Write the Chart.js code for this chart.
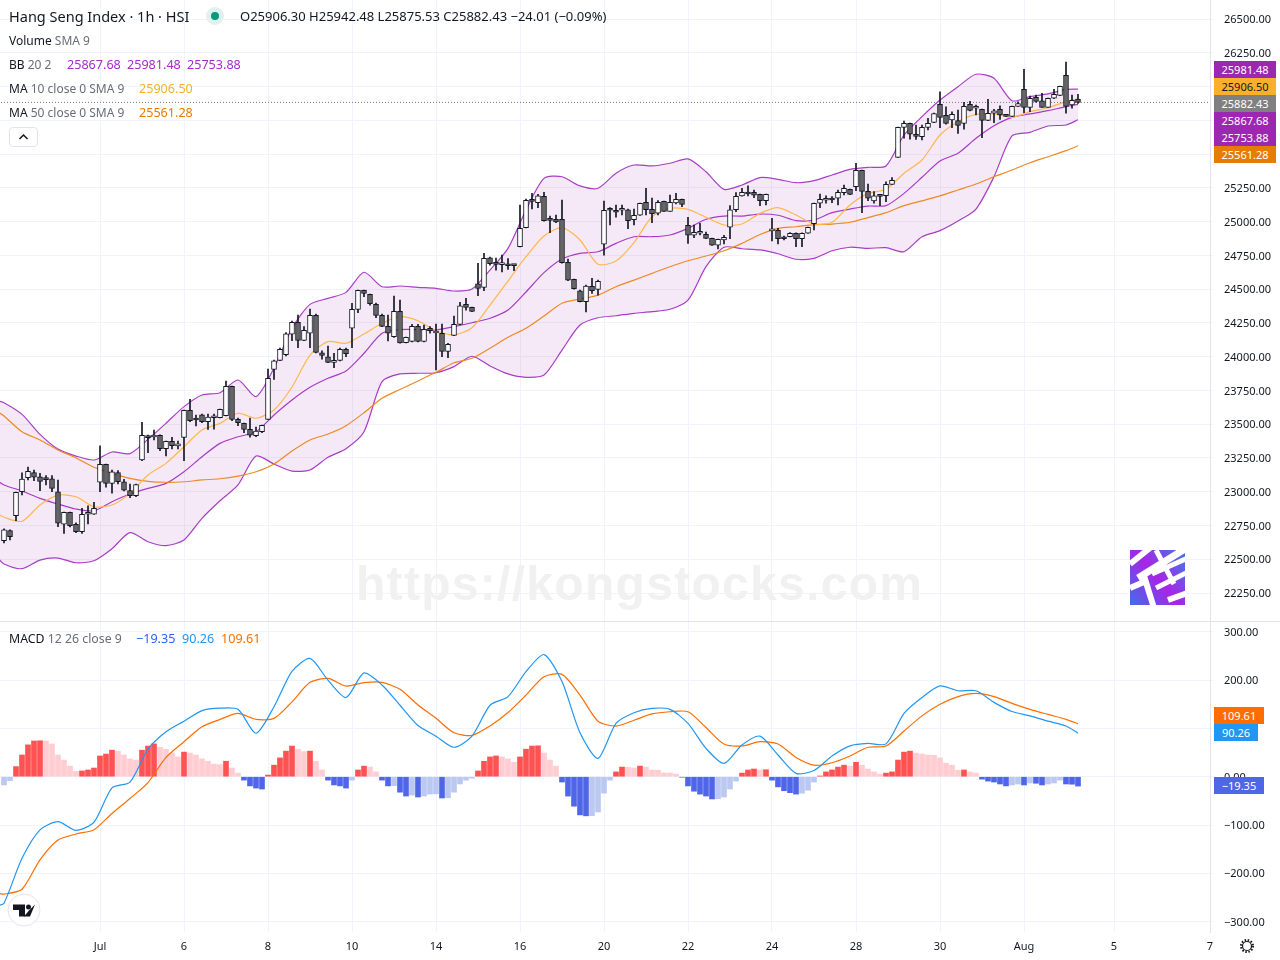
<!DOCTYPE html>
<html>
<head>
<meta charset="utf-8">
<title>Hang Seng Index</title>
<script src="https://cdn.jsdelivr.net/npm/chart.js@4"></script>
<style>
  html, body { margin: 0; padding: 0; background: #fff; width: 1280px; height: 960px; overflow: hidden; }
  body { position: relative; font-family: "Noto Sans", sans-serif; color: #131722; }
  canvas { position: absolute; left: 0; }
  .t { position: absolute; white-space: nowrap; font-size: 12px; line-height: 16px; }
  .v { font-size: 12.6px; }
  .g { color: #6a6d78; }
  .tag { position: absolute; height: 17px; line-height: 17px; font-size: 11px; text-align: center; color: #fff; }
  .mark { position: absolute; font-family: "Liberation Sans", sans-serif; font-weight: bold; font-size: 48px; color: #f1f1f1; letter-spacing: 1.3px; white-space: nowrap; }
</style>
</head>
<body>
<canvas id="priceChart" style="top:0" width="1280" height="621"></canvas>
<canvas id="macdChart" style="top:622px" width="1280" height="338"></canvas>
<div style="position:absolute;left:0;top:621px;width:1280px;height:1px;background:#e0e3eb"></div>

<div class="mark" style="left:356px;top:556px">https://kongstocks.com</div>

<div class="t" style="left:9px;top:6px;font-size:14.5px;line-height:20px">Hang Seng Index · 1h · HSI</div>
<div style="position:absolute;left:206px;top:7px;width:18px;height:18px;border-radius:9px;background:#dff2ee"></div>
<div style="position:absolute;left:211px;top:12px;width:8px;height:8px;border-radius:4px;background:#089981"></div>
<div class="t" style="left:240px;top:8px;font-size:13px">O25906.30 H25942.48 L25875.53 C25882.43 −24.01 (−0.09%)</div>
<div class="t" style="left:9px;top:33px">Volume <span class="g">SMA 9</span></div>
<div class="t" style="left:9px;top:57px">BB <span class="g">20 2</span></div>
<div class="t v" style="left:67px;top:57px;color:#a62ccb">25867.68</div>
<div class="t v" style="left:127px;top:57px;color:#a62ccb">25981.48</div>
<div class="t v" style="left:187px;top:57px;color:#a62ccb">25753.88</div>
<div class="t" style="left:9px;top:81px">MA <span class="g">10 close 0 SMA 9</span></div>
<div class="t v" style="left:139px;top:81px;color:#fbb02d">25906.50</div>
<div class="t" style="left:9px;top:105px">MA <span class="g">50 close 0 SMA 9</span></div>
<div class="t v" style="left:139px;top:105px;color:#e67c00">25561.28</div>
<div style="position:absolute;left:9px;top:127px;width:27px;height:18px;border:1px solid #e0e3eb;border-radius:4px">
  <svg width="27" height="18"><path d="M9.5 11 L13.5 7 L17.5 11" fill="none" stroke="#131722" stroke-width="1.5"/></svg>
</div>

<div class="t" style="left:9px;top:631px;font-size:12.3px">MACD <span class="g">12 26 close 9</span></div>
<div class="t v" style="left:136px;top:631px;color:#2962ff">−19.35</div>
<div class="t v" style="left:182px;top:631px;color:#2196f3">90.26</div>
<div class="t v" style="left:221px;top:631px;color:#ff6d00">109.61</div>

<div class="tag" style="left:1214px;width:62px;top:61px;background:#9c27b0">25981.48</div>
<div class="tag" style="left:1214px;width:62px;top:78px;background:#fbb02d;color:#131722">25906.50</div>
<div class="tag" style="left:1214px;width:62px;top:95px;background:#808080">25882.43</div>
<div class="tag" style="left:1214px;width:62px;top:112px;background:#9c27b0">25867.68</div>
<div class="tag" style="left:1214px;width:62px;top:129px;background:#9c27b0">25753.88</div>
<div class="tag" style="left:1214px;width:62px;top:146px;background:#e67c00">25561.28</div>
<div class="tag" style="left:1214px;width:50px;top:707px;background:#ff6d00">109.61</div>
<div class="tag" style="left:1214px;width:44px;top:724px;background:#2196f3">90.26</div>
<div class="tag" style="left:1214px;width:50px;top:777px;background:#4f66e8">−19.35</div>

<svg style="position:absolute;left:1130px;top:550px" width="55" height="55" viewBox="0 0 55 55">
  <defs><linearGradient id="lg" x1="0" y1="1" x2="1" y2="0.2">
    <stop offset="0" stop-color="#3f6fe8"/><stop offset="0.55" stop-color="#a824e6"/><stop offset="1" stop-color="#4f6fe8"/>
  </linearGradient></defs>
  <rect width="55" height="55" fill="url(#lg)"/>
  <g stroke="#fff" fill="none">
    <path d="M0 14 L20 -2" stroke-width="6"/>
    <path d="M8 28 L58 -3" stroke-width="7"/>
    <path d="M0 38 L14 32" stroke-width="6"/>
    <path d="M22 24 L58 8" stroke-width="5"/>
    <path d="M26 0 L44 34" stroke-width="5"/>
    <path d="M14 26 L24 58" stroke-width="6"/>
    <path d="M26 38 L58 22" stroke-width="5"/>
    <path d="M38 50 L60 42" stroke-width="6"/>
  </g>
</svg>

<svg style="position:absolute;left:7px;top:893px" width="34" height="34" viewBox="7 893 34 34">
  <circle cx="24" cy="910" r="16" fill="#fff" stroke="#e0e3eb" stroke-width="1"/>
  <path d="M13 904.500h12v12h-6v-6.500h-6z" fill="#131722"/>
  <circle cx="28.500" cy="907" r="2.500" fill="#131722"/>
  <path d="M35 904.500l-5 12h-6l5 -6z" fill="#131722"/>
</svg>
<svg style="position:absolute;left:1239px;top:938px" width="16" height="16">
  <circle cx="8" cy="8" r="4.500" fill="none" stroke="#131722" stroke-width="1.2"/>
  <circle cx="8" cy="8" r="6" fill="none" stroke="#131722" stroke-width="2" stroke-dasharray="1.500 1.640"/>
</svg>

<script>
// x positions of the time labels, counted in bars
const dateTicks = [16, 30, 44, 58, 72, 86, 100, 114, 128, 142, 156, 170, 185, 201];
const dateLabels = ["Jul", "6", "8", "10", "14", "16", "20", "22", "24", "28", "30", "Aug", "5", "7"];

const opens = [
  22638,22712,22823,23000,23104,23141,23111,23095,23096,23000,
  22759,22848,22759,22704,22833,22833,23070,23203,23062,23141,
  23074,23008,22971,23235,23415,23405,23418,23319,23373,23340,
  23402,23603,23535,23570,23518,23548,23548,23563,23780,23536,
  23506,23462,23415,23444,23536,23906,23973,24014,24166,24254,
  24121,24173,24306,24029,23999,23958,23973,24054,24210,24350,
  24491,24461,24387,24306,24224,24148,24335,24103,24113,24224,
  24113,24210,24175,24173,24039,24158,24239,24387,24365,24540,
  24513,24732,24698,24681,24683,24678,24814,24955,25162,25140,
  25187,25015,25017,25017,24698,24572,24488,24407,24520,24498,
  24832,25091,25081,25084,25088,25014,25047,25143,25091,25062,
  25150,25076,25138,25165,24973,24899,24914,24906,24876,24825,
  24864,24958,25088,25190,25217,25217,25202,25155,24931,24936,
  24884,24888,24914,24873,24914,24985,25136,25158,25175,25173,
  25214,25239,25258,25380,25224,25153,25195,25192,25276,25476,
  25698,25727,25646,25628,25698,25735,25868,25787,25752,25747,
  25727,25868,25839,25831,25750,25802,25831,25784,25779,25853,
  25979,25846,25920,25895,25846,25913,25935,26083,25863,25906.30
];
const highs = [
  22725,22717,22998,23139,23183,23161,23136,23119,23119,23087,
  22850,22850,22769,22877,22895,22922,23339,23205,23161,23156,
  23092,23057,23057,23514,23420,23457,23422,23375,23402,23375,
  23605,23684,23568,23575,23575,23575,23612,23819,23782,23546,
  23509,23546,23479,23494,23908,23975,24064,24179,24264,24308,
  24222,24352,24315,24044,24079,24025,24064,24064,24395,24493,
  24493,24463,24397,24315,24308,24449,24419,24145,24239,24239,
  24234,24222,24241,24241,24099,24300,24402,24431,24367,24691,
  24765,24737,24730,24752,24727,24678,25123,25167,25209,25202,
  25217,25041,25049,25160,24722,24574,24493,24530,24580,24567,
  25151,25103,25123,25123,25093,25093,25138,25247,25175,25155,
  25152,25197,25209,25167,25032,24975,24988,24923,24878,24871,
  24899,25118,25214,25247,25264,25234,25204,25204,25025,24951,
  24893,24918,24916,24916,24960,25138,25204,25190,25185,25234,
  25271,25241,25432,25382,25278,25222,25197,25295,25325,25700,
  25745,25729,25715,25715,25765,25804,25961,25850,25813,25826,
  25883,25890,25863,25833,25905,25831,25858,25789,25856,25887,
  26127,25930,25937,25950,25915,25979,26004,26181,25937,25942.48
];
const lows = [
  22620,22643,22786,22976,23087,23082,23008,23050,23000,22742,
  22692,22739,22697,22692,22761,22831,23000,23033,22990,23057,
  23006,22956,22964,23230,23289,23383,23304,23265,23316,23316,
  23230,23518,23487,23511,23462,23464,23546,23561,23526,23489,
  23437,23403,23407,23437,23535,23832,23970,24005,24118,24066,
  24119,24066,24027,23982,23955,23918,23968,23999,24066,24325,
  24444,24382,24288,24222,24116,24143,24099,24101,24110,24110,
  24110,24173,23901,23999,23992,24155,24236,24345,24334,24451,
  24488,24678,24641,24628,24646,24636,24813,24953,25093,25103,
  25004,24918,24992,24693,24562,24500,24405,24332,24469,24456,
  24752,24975,25032,25049,24948,24975,25045,25049,24992,25049,
  25075,25075,25130,25110,24839,24881,24901,24873,24823,24797,
  24834,24873,25073,25188,25190,25177,25118,25123,24857,24834,
  24864,24886,24814,24814,24912,24938,25103,25136,25140,25123,
  25197,25200,25229,25066,25155,25136,25118,25147,25275,25475,
  25617,25611,25609,25604,25678,25733,25695,25722,25695,25653,
  25685,25819,25789,25621,25748,25732,25757,25778,25778,25852,
  25806,25813,25885,25845,25845,25911,25933,25802,25839,25875.53
];
const closes = [
  22717,22667,22996,23094,23151,23107,23077,23090,23025,22767,
  22848,22749,22704,22833,22838,22877,23203,23062,23148,23074,
  23011,22971,23052,23418,23400,23410,23319,23373,23341,23343,
  23603,23526,23531,23518,23553,23552,23610,23780,23536,23511,
  23462,23418,23449,23491,23840,23970,24054,24169,24254,24121,
  24195,24306,24032,24010,23958,23970,24054,24022,24350,24491,
  24469,24392,24306,24224,24173,24335,24101,24143,24224,24113,
  24202,24192,24180,24039,24091,24239,24377,24365,24335,24506,
  24728,24688,24683,24685,24673,24674,24950,25158,25150,25190,
  25007,25009,24997,24695,24567,24503,24407,24522,24488,24557,
  25084,25084,25069,25088,25007,25047,25136,25088,25059,25143,
  25076,25143,25165,25128,24899,24921,24918,24876,24825,24869,
  24884,25088,25187,25217,25204,25195,25155,25202,24935,24873,
  24873,24914,24873,24914,24958,25136,25165,25162,25160,25217,
  25247,25202,25380,25224,25173,25190,25187,25276,25306,25698,
  25727,25648,25631,25698,25727,25799,25772,25727,25794,25713,
  25853,25824,25853,25750,25802,25821,25789,25779,25853,25873,
  25846,25913,25890,25846,25913,25942,26001,25853,25898,25882.43
];

const lineBars = [
  -1,0,3,6,9,12,15,18,21,24,27,30,33,36,39,42,45,48,51,54,57,60,63,66,69,72,75,78,81,84,
  87,90,93,96,99,102,105,108,111,114,117,120,123,126,129,132,135,138,141,144,147,150,153,
  156,159,162,165,168,171,174,177,179
];
const bbUpper = [
  23672,23659,23573,23425,23316,23264,23235,23294,23282,23388,
  23507,23630,23716,23733,23827,23704,23916,24210,24387,24432,
  24476,24625,24518,24523,24513,24506,24486,24501,24641,24802,
  25086,25320,25332,25264,25247,25358,25419,25412,25432,25464,
  25369,25239,25271,25326,25313,25288,25303,25345,25387,25402,
  25412,25641,25777,25900,25999,26091,26061,25895,25925,25945,
  25979,25981.48
];
const bbBasis = [
  23079,23050,23005,22951,22909,22872,22859,22926,22983,23025,
  23062,23148,23259,23358,23407,23444,23568,23679,23773,23840,
  23894,24025,24173,24200,24200,24197,24222,24251,24284,24345,
  24479,24622,24723,24765,24777,24839,24888,24888,24901,24950,
  25017,25041,25041,25056,25047,25007,25012,25066,25093,25115,
  25118,25209,25328,25449,25506,25617,25710,25772,25797,25821,
  25851,25867.68
];
const bbLower = [
  22509,22465,22430,22494,22509,22474,22489,22578,22697,22630,
  22601,22643,22803,22933,23050,23264,23205,23153,23161,23255,
  23318,23444,23815,23872,23877,23881,23926,24003,23931,23872,
  23847,23864,24049,24234,24288,24303,24321,24333,24351,24419,
  24666,24810,24799,24790,24762,24721,24728,24784,24810,24802,
  24807,24777,24888,24933,25004,25093,25332,25634,25661,25708,
  25715,25753.88
];
const ma10 = [
  22835,22811,22781,22902,22975,22963,22889,22902,22988,23124,
  23210,23333,23457,23506,23581,23544,23605,23775,24012,24111,
  24099,24168,24247,24296,24266,24192,24162,24214,24382,24560,
  24740,24893,24955,24864,24684,24708,24844,25036,25098,25091,
  25032,24975,24982,25061,25103,25049,24982,24995,25123,25209,
  25239,25358,25456,25641,25740,25794,25797,25772,25814,25843,
  25888,25906.50
];
const ma50 = [
  23590,23561,23444,23383,23309,23250,23181,23136,23099,23077,
  23070,23074,23087,23096,23116,23148,23205,23301,23383,23427,
  23489,23585,23692,23757,23820,23884,23955,23988,24062,24143,
  24210,24301,24395,24427,24456,24518,24567,24617,24666,24710,
  24745,24784,24839,24904,24950,24962,24977,24982,24995,25029,
  25066,25118,25153,25190,25234,25278,25332,25382,25436,25480,
  25525,25561.28
];
const macdLine = [
  -267,-262,-169,-110,-93,-111,-94,-23,-11,57,
  93,115,137,142,139.5,90,145,218,245,200,
  164,215,190,148,106,84,61,84,148,166,
  217.5,253,197,91,38,110.5,132.6,141.5,139.5,110.5,
  58.7,27.7,65.6,84,45,7,13,43,64,69,
  68,131,164,188,178,178,154,135,126,115,
  105,90.26
];
const signalLine = [
  -241,-243,-233,-172,-131,-118.6,-109.6,-76,-45,-12,
  40,72.6,103.6,118.8,131,118.8,120.8,155,195.4,203.6,
  187.8,194.7,195.4,181,148.5,121,91,85.7,105,133,
  169,207,212,169,115,105,117,130,134.6,134.6,
  102,67.7,63.6,72.6,67.7,40,24,29,43,61,
  63.6,94.6,126,150,166,172.6,166,152,139.5,129,
  118.8,109.61
];
const macdHist = [
  -17,-8,21,45,66,74,74.5,74,68,45,
  34.5,22,11,12,14,18,43,47,55,53,
  45,37,34.5,55,63.5,68,61,57,49,41,
  51,49,45,37,32,26,25,32,18,7.5,
  -7,-19,-23.5,-25.5,3.5,24,39,53,63.5,57,
  52,53,32,14,-7,-17,-19,-23.5,-7,14,
  22,20,10,-7,-19,-18.5,-32,-40,-38,-42,
  -40,-36,-35.5,-44,-43.5,-32,-15,-7,-3,12,
  32,41,43,41,37,30,41,57,63.5,64,
  49,34.5,22,-11,-40,-61,-79,-81,-80.5,-73,
  -34,-7,10,20,19.5,18,22,20,14,13.5,
  8,7.5,5.5,-1,-19,-30,-36,-40,-46,-45.5,
  -42,-25.5,-9,7.5,14,16,14,14.5,-7,-21,
  -29,-33,-36,-34,-28,-11,1.5,10,14,20,
  24,22,30,24,16,10,5.5,7.5,10,34.5,
  51,53,49,47,45,44.5,39,28,24,13.5,
  14,10,7.5,-5,-9,-11,-15,-19,-17,-15,
  -17,-13,-13.5,-17,-15,-13,-7,-15,-15.5,-19.35
];
const lastClose = 25882.43;

const gridColor = "#f0f3fa";
const axisFont = { family: "'Noto Sans', sans-serif", size: 11 };

function linePoints(values) {
  return values.map((v, i) => ({ x: lineBars[i], y: v }));
}

function lineSet(values, color, order, extra) {
  return Object.assign({
    type: "line",
    data: linePoints(values),
    borderColor: color,
    borderWidth: 1.2,
    pointRadius: 0,
    tension: 0.25,
    order: order
  }, extra || {});
}

function priceTick(v) {
  return (v < 0 ? "\u2212" : "") + Math.abs(v).toFixed(2);
}

function xScale(showLabels) {
  return {
    type: "linear",
    offset: false,
    min: -4 / 6,
    max: 201,
    grid: { color: gridColor, offset: false, drawTicks: false },
    border: { display: false },
    afterBuildTicks: s => { s.ticks = dateTicks.map(v => ({ value: v })); },
    afterFit: s => {
      s.height = showLabels ? 28 : 0;
      s.paddingLeft = 0;
      s.paddingRight = 0;
    },
    ticks: {
      display: showLabels,
      autoSkip: false,
      maxRotation: 0,
      padding: 8,
      color: "#131722",
      font: axisFont,
      callback: v => dateLabels[dateTicks.indexOf(v)]
    }
  };
}

function yScale(min, max, step) {
  return {
    position: "right",
    min: min,
    max: max,
    beginAtZero: false,
    // tick padding would otherwise push the plot area in from top and bottom
    afterFit: s => {
      s.width = 70;
      s.paddingTop = 0;
      s.paddingBottom = 0;
    },
    grid: { color: gridColor, tickLength: 3 },
    border: { color: "#e0e3eb" },
    ticks: {
      stepSize: step,
      includeBounds: false,
      autoSkip: false,
      padding: 11,
      labelOffset: 1,
      color: "#131722",
      font: axisFont,
      callback: priceTick
    }
  };
}

const barBase = { grouped: false, borderWidth: 0 };

new Chart(document.getElementById("priceChart"), {
  type: "bar",
  data: {
    datasets: [
      lineSet(bbUpper, "#a83fc6", 5, { fill: { target: 2 }, backgroundColor: "rgba(156,39,176,0.1)" }),
      lineSet(bbBasis, "#a83fc6", 5),
      lineSet(bbLower, "#a83fc6", 5),
      lineSet(ma10, "#ffb74d", 4),
      lineSet(ma50, "#ed8a24", 4),
      {
        type: "line",
        data: [{ x: -1, y: lastClose }, { x: 201, y: lastClose }],
        borderColor: "#787b86",
        borderWidth: 1,
        borderDash: [1, 2],
        pointRadius: 0,
        order: 3
      },
      Object.assign({}, barBase, {
        data: highs.map((h, i) => ({ x: i, y: [lows[i], h] })),
        backgroundColor: "#131722",
        barThickness: 1,
        order: 2
      }),
      Object.assign({}, barBase, {
        data: opens.map((o, i) => ({ x: i, y: [Math.min(o, closes[i]), Math.max(o, closes[i])] })),
        backgroundColor: opens.map((o, i) => (closes[i] >= o ? "#ffffff" : "#666666")),
        borderColor: "#131722",
        borderWidth: 1,
        borderSkipped: false,
        barThickness: 5,
        minBarLength: 2,
        order: 1
      })
    ]
  },
  options: {
    responsive: false,
    animation: false,
    events: [],
    layout: { padding: 0, autoPadding: false },
    plugins: { legend: { display: false }, tooltip: { enabled: false } },
    scales: { x: xScale(false), y: yScale(22042.8, 26640.7, 250) }
  }
});

new Chart(document.getElementById("macdChart"), {
  type: "bar",
  data: {
    datasets: [
      lineSet(macdLine, "#2196f3", 1),
      lineSet(signalLine, "#ff6d00", 1),
      Object.assign({}, barBase, {
        data: macdHist.map((v, i) => ({ x: i, y: v })),
        backgroundColor: macdHist.map((v, i) => {
          const rising = i > 0 ? v > macdHist[i - 1] : true;
          if (v >= 0) return rising ? "#ff5252" : "#ffcdd2";
          return rising ? "#bbc8f2" : "#4f66e8";
        }),
        barThickness: 5,
        order: 2
      })
    ]
  },
  options: {
    responsive: false,
    animation: false,
    events: [],
    layout: { padding: 0, autoPadding: false },
    plugins: { legend: { display: false }, tooltip: { enabled: false } },
    scales: { x: xScale(true), y: yScale(-321.5, 320.4, 100) }
  }
});
</script>
</body>
</html>
